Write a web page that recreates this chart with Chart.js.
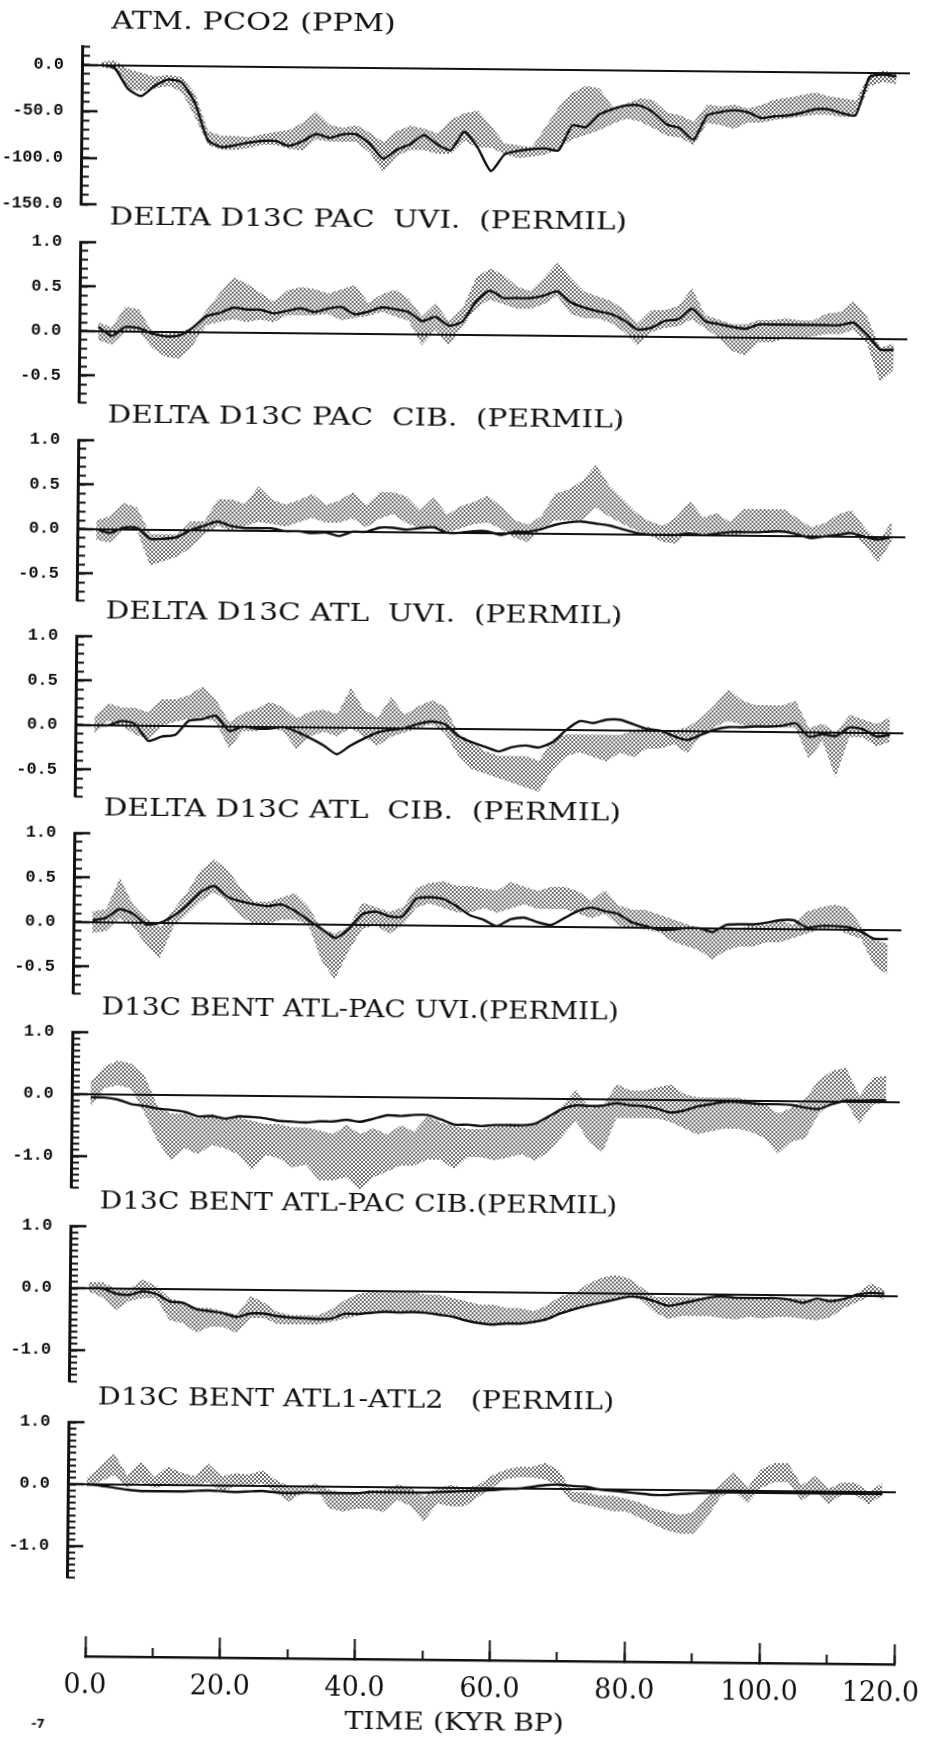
<!DOCTYPE html>
<html>
<head>
<meta charset="utf-8">
<script src="https://cdn.jsdelivr.net/npm/chart.js@4.4.1/dist/chart.umd.min.js"></script>
<style>
  html, body { margin: 0; padding: 0; background: #fff; overflow: hidden; }
  #sheet { position: relative; width: 930px; height: 1740px; background: #fff;
           transform: rotate(0.57deg); transform-origin: 465px 870px; }
  .panel { position: absolute; left: 0; }
  .txt { position: absolute; white-space: pre; font-family: 'DejaVu Serif', serif; color: #111;
         font-size: 24px; line-height: 28px; transform-origin: 0 50%; }
  #mark { position: absolute; font: bold 12px 'DejaVu Sans', sans-serif; color: #111; }
</style>
</head>
<body>
<div id="sheet"></div>
<script>
// time axis (kyr BP), one sample every 2 kyr
const KYR = [0,2,4,6,8,10,12,14,16,18,20,22,24,26,28,30,32,34,36,38,40,42,44,46,48,50,52,54,56,58,
             60,62,64,66,68,70,72,74,76,78,80,82,84,86,88,90,92,94,96,98,100,102,104,106,108,110,112,114,116,118];
const X_TICKS_MAJOR = 20;
const X_TICKS_MINOR = 10;

const TITLES = [
  'ATM. PCO2 (PPM)',
  'DELTA D13C PAC  UVI.  (PERMIL)',
  'DELTA D13C PAC  CIB.  (PERMIL)',
  'DELTA D13C ATL  UVI.  (PERMIL)',
  'DELTA D13C ATL  CIB.  (PERMIL)',
  'D13C BENT ATL-PAC UVI.(PERMIL)',
  'D13C BENT ATL-PAC CIB.(PERMIL)',
  'D13C BENT ATL1-ATL2   (PERMIL)'
];

// y ranges and tick steps per panel
const Y_MIN = [-150, -0.8, -0.8, -0.8, -0.8, -1.5, -1.5, -1.5];
const Y_MAX = [20, 1.0, 1.0, 1.0, 1.0, 1.0, 1.0, 1.0];
const Y_STEP = [50, 0.5, 0.5, 0.5, 0.5, 1.0, 1.0, 1.0];
const Y_MINOR = [10, 0.1, 0.1, 0.1, 0.1, 0.1, 0.1, 0.1];

// ---- atm pCO2 (ppm) ----
const PCO2_MODEL = [0,-3,-25,-33,-22,-15,-18,-40,-80,-87, -85,-82,-80,-80,-85,-80,-72,-76,-72,-72,
  -82,-98,-88,-82,-72,-82,-88,-68,-85,-110, -92,-88,-86,-85,-87,-60,-62,-48,-42,-38,
  -38,-45,-58,-62,-74,-48,-44,-42,-44,-50, -48,-47,-44,-40,-40,-44,-46,-5,-2,-4];
const PCO2_HI = [3,5,-4,-8,-12,-10,-12,-30,-70,-75, -75,-76,-73,-70,-68,-60,-48,-62,-65,-62,
  -70,-80,-68,-62,-65,-70,-55,-48,-45,-62, -80,-82,-84,-62,-40,-25,-17,-20,-40,-36,
  -30,-32,-45,-48,-55,-36,-38,-36,-40,-36, -30,-28,-25,-22,-26,-28,-30,-2,2,0];
const PCO2_LO = [-2,-5,-25,-28,-25,-22,-28,-55,-85,-90, -90,-88,-84,-84,-88,-90,-78,-80,-80,-80,
  -92,-112,-95,-88,-88,-92,-92,-78,-85,-85, -92,-96,-94,-92,-85,-75,-70,-65,-58,-52,
  -55,-62,-70,-72,-80,-56,-58,-62,-55,-55, -52,-50,-48,-46,-46,-48,-48,-15,-10,-12];

// ---- delta d13C Pacific, Uvigerina ----
const PAC_UVI_MODEL = [0.05,-0.05,0.05,0.04,-0.02,-0.05,-0.04,0.05,0.18,0.22, 0.28,0.26,0.26,0.22,0.25,0.28,0.24,0.28,0.3,0.22,
  0.25,0.3,0.28,0.25,0.15,0.2,0.1,0.15,0.38,0.5, 0.42,0.42,0.42,0.45,0.5,0.38,0.32,0.28,0.25,0.18,
  0.08,0.1,0.18,0.2,0.32,0.18,0.15,0.12,0.1,0.15, 0.15,0.15,0.15,0.15,0.15,0.15,0.18,0.05,-0.12,-0.12];
const PAC_UVI_HI = [0.1,0.05,0.28,0.25,0.0,-0.02,0.0,0.05,0.25,0.45, 0.62,0.55,0.45,0.35,0.48,0.52,0.5,0.45,0.5,0.55,
  0.35,0.45,0.5,0.4,0.2,0.35,0.15,0.3,0.65,0.75, 0.68,0.55,0.5,0.65,0.82,0.65,0.5,0.45,0.4,0.3,
  0.15,0.3,0.3,0.35,0.55,0.25,0.2,0.15,0.15,0.2, 0.2,0.22,0.2,0.2,0.28,0.3,0.42,0.25,-0.1,-0.05];
const PAC_UVI_LO = [-0.1,-0.15,0.0,0.0,-0.18,-0.28,-0.3,-0.15,0.08,0.12, 0.15,0.12,0.15,0.12,0.2,0.2,0.2,0.22,0.15,0.18,
  0.2,0.25,0.2,0.15,-0.12,0.05,-0.12,0.1,0.3,0.4, 0.35,0.3,0.3,0.35,0.45,0.25,0.2,0.2,0.15,0.05,
  -0.1,0.05,0.1,0.12,0.2,0.1,0.0,-0.15,-0.2,-0.05, -0.05,0.0,0.0,0.02,0.05,0.05,0.1,-0.05,-0.48,-0.35];

// ---- delta d13C Pacific, Cibicides ----
const PAC_CIB_MODEL = [0,-0.04,0.02,0.02,-0.1,-0.1,-0.08,0.0,0.05,0.1, 0.05,0.03,0.03,0.03,0.0,0.0,-0.02,-0.01,-0.05,0.0,
  0.0,0.05,0.05,0.03,0.05,0.06,0.0,0.0,0.02,0.02, -0.02,0.02,0.02,0.05,0.1,0.13,0.14,0.12,0.1,0.06,
  0.02,0.0,0.0,0.0,0.02,0.0,0.02,0.04,0.04,0.04, 0.05,0.05,0.02,-0.02,0.0,0.02,0.04,0.0,-0.03,0.0];
const PAC_CIB_HI = [0.1,0.15,0.3,0.25,-0.05,-0.05,-0.05,0.1,0.1,0.35, 0.35,0.3,0.5,0.35,0.3,0.35,0.42,0.3,0.35,0.45,
  0.3,0.45,0.45,0.4,0.25,0.4,0.2,0.3,0.35,0.42, 0.3,0.15,0.1,0.2,0.45,0.5,0.6,0.78,0.55,0.4,
  0.25,0.15,0.1,0.2,0.38,0.2,0.25,0.15,0.3,0.3, 0.3,0.3,0.2,0.1,0.15,0.25,0.3,0.1,-0.05,0.18];
const PAC_CIB_LO = [-0.12,-0.15,0.0,0.0,-0.4,-0.35,-0.3,-0.2,-0.05,0.05, 0.0,0.05,0.1,0.08,0.05,0.1,0.15,0.1,0.1,0.15,
  0.05,0.15,0.2,0.1,0.05,0.08,0.0,0.05,0.1,0.12, 0.05,-0.05,-0.1,0.05,0.15,0.15,0.15,0.3,0.2,0.12,
  0.05,0.0,-0.08,-0.1,0.05,0.0,0.02,0.0,0.02,0.05, 0.05,0.05,0.02,-0.02,0.0,0.02,0.05,-0.1,-0.28,-0.05];

// ---- delta d13C Atlantic, Uvigerina ----
const ATL_UVI_MODEL = [0,0.0,0.05,0.02,-0.17,-0.12,-0.1,0.06,0.08,0.12, -0.05,0.0,-0.02,-0.02,0.0,-0.05,-0.12,-0.2,-0.3,-0.2,
  -0.12,-0.05,-0.02,0.0,0.05,0.08,0.05,-0.08,-0.15,-0.2, -0.25,-0.2,-0.18,-0.2,-0.14,0.0,0.1,0.08,0.12,0.12,
  0.07,0.02,0.0,-0.06,-0.1,-0.04,0.02,0.05,0.05,0.06, 0.06,0.07,0.1,-0.05,-0.02,-0.04,0.06,0.04,-0.04,-0.02];
const ATL_UVI_HI = [0.1,0.25,0.2,0.2,0.15,0.3,0.3,0.35,0.45,0.3, 0.05,0.15,0.2,0.28,0.22,0.1,0.18,0.2,0.15,0.45,
  0.2,0.12,0.35,0.15,0.25,0.32,0.25,-0.05,-0.15,-0.25, -0.3,-0.3,-0.3,-0.35,-0.1,-0.05,-0.05,-0.05,-0.05,-0.05,
  0.0,0.05,0.0,0.0,0.05,0.15,0.3,0.48,0.35,0.3, 0.3,0.3,0.35,0.05,0.1,0.0,0.2,0.15,0.1,0.18];
const ATL_UVI_LO = [-0.1,0.05,0.0,-0.1,-0.15,0.0,0.05,0.08,0.1,0.05, -0.25,-0.05,-0.05,0.0,-0.05,-0.25,-0.1,-0.05,-0.1,0.0,
  -0.1,-0.2,-0.1,-0.05,0.0,0.05,-0.05,-0.3,-0.45,-0.5, -0.55,-0.6,-0.65,-0.7,-0.45,-0.3,-0.25,-0.3,-0.35,-0.25,
  -0.3,-0.2,-0.2,-0.15,-0.25,-0.05,0.05,0.12,0.08,0.05, 0.05,0.05,0.05,-0.3,-0.1,-0.5,-0.05,-0.05,-0.15,-0.1];

// ---- delta d13C Atlantic, Cibicides ----
const ATL_CIB_MODEL = [0.02,0.05,0.15,0.1,-0.02,0.0,0.08,0.2,0.35,0.42, 0.3,0.25,0.22,0.2,0.22,0.15,0.05,-0.05,-0.15,-0.05,
  0.12,0.15,0.1,0.1,0.3,0.32,0.3,0.22,0.12,0.07, 0.0,0.08,0.1,0.05,0.02,0.1,0.18,0.22,0.18,0.15,
  0.06,0.02,-0.02,-0.02,0.0,0.0,-0.04,0.04,0.05,0.05, 0.07,0.1,0.1,0.02,0.04,0.04,0.03,-0.02,-0.1,-0.1];
const ATL_CIB_HI = [0.12,0.15,0.5,0.2,0.05,-0.05,0.15,0.35,0.6,0.72, 0.6,0.4,0.25,0.25,0.3,0.35,0.2,-0.05,-0.1,-0.02,
  0.25,0.2,0.15,0.2,0.42,0.48,0.5,0.45,0.45,0.42, 0.4,0.5,0.45,0.4,0.45,0.45,0.4,0.3,0.42,0.25,
  0.2,0.2,0.15,0.1,0.05,0.0,-0.05,0.0,0.0,0.05, 0.05,0.1,0.05,0.2,0.25,0.28,0.25,0.05,-0.12,-0.15];
const ATL_CIB_LO = [-0.12,-0.1,0.05,-0.05,-0.25,-0.4,-0.05,0.1,0.25,0.35, 0.25,0.08,0.0,0.0,0.05,0.05,0.0,-0.4,-0.62,-0.3,
  -0.05,0.0,-0.1,0.0,0.2,0.25,0.2,0.15,0.15,0.2, 0.15,0.2,0.25,0.2,0.2,0.2,0.15,0.1,0.15,0.02,
  0.0,-0.02,-0.05,-0.15,-0.2,-0.25,-0.35,-0.25,-0.2,-0.2, -0.15,-0.15,-0.1,-0.05,0.0,0.02,-0.05,-0.1,-0.4,-0.5];

// ---- benthic d13C Atlantic - Pacific, Uvigerina ----
const AP_UVI_MODEL = [-0.05,-0.05,-0.08,-0.15,-0.18,-0.22,-0.24,-0.27,-0.34,-0.33, -0.37,-0.33,-0.34,-0.36,-0.4,-0.41,-0.42,-0.4,-0.4,-0.37,
  -0.4,-0.35,-0.29,-0.3,-0.28,-0.28,-0.35,-0.43,-0.43,-0.45, -0.43,-0.43,-0.43,-0.4,-0.28,-0.16,-0.1,-0.11,-0.1,-0.06,
  -0.09,-0.1,-0.14,-0.2,-0.17,-0.1,-0.06,-0.02,-0.02,-0.04, -0.05,-0.05,-0.06,-0.1,-0.12,-0.04,0.02,0.02,0.03,0.03];
const AP_UVI_HI = [0.2,0.45,0.55,0.5,0.3,-0.2,-0.3,-0.3,-0.38,-0.3, -0.38,-0.35,-0.4,-0.45,-0.45,-0.5,-0.5,-0.55,-0.6,-0.45,
  -0.6,-0.5,-0.6,-0.45,-0.55,-0.3,-0.4,-0.45,-0.5,-0.5, -0.45,-0.4,-0.42,-0.42,-0.3,-0.1,0.15,-0.15,-0.1,0.25,
  0.15,0.15,0.2,0.25,0.1,0.05,0.05,0.05,0.05,0.0, -0.05,-0.2,-0.1,0.05,0.35,0.5,0.55,0.1,0.4,0.42];
const AP_UVI_LO = [-0.2,0.1,0.15,0.1,-0.3,-0.75,-1.05,-0.85,-0.95,-0.8, -0.85,-0.95,-1.2,-0.95,-1.0,-1.15,-1.1,-1.35,-1.35,-1.3,
  -1.5,-1.3,-1.2,-1.1,-1.1,-1.0,-1.0,-1.15,-0.95,-0.95, -1.0,-0.95,-0.9,-1.0,-0.85,-0.6,-0.35,-0.7,-0.85,-0.3,
  -0.3,-0.3,-0.3,-0.35,-0.45,-0.55,-0.5,-0.45,-0.45,-0.5, -0.6,-0.85,-0.65,-0.6,-0.2,0.0,0.0,-0.35,-0.05,0.0];

// ---- benthic d13C Atlantic - Pacific, Cibicides ----
const AP_CIB_MODEL = [0.0,0.0,-0.08,-0.1,-0.04,-0.08,-0.2,-0.22,-0.32,-0.35, -0.38,-0.44,-0.38,-0.38,-0.42,-0.44,-0.45,-0.46,-0.45,-0.37,
  -0.37,-0.35,-0.33,-0.34,-0.33,-0.34,-0.37,-0.4,-0.46,-0.5, -0.52,-0.5,-0.5,-0.47,-0.42,-0.33,-0.26,-0.2,-0.15,-0.1,
  -0.05,-0.06,-0.12,-0.19,-0.15,-0.1,-0.05,-0.03,-0.05,-0.05, -0.05,-0.05,-0.07,-0.12,-0.05,-0.09,-0.05,0.02,0.05,0.04];
const AP_CIB_HI = [0.1,0.1,0.0,0.0,0.15,0.05,-0.15,-0.2,-0.3,-0.3, -0.35,-0.4,-0.1,-0.2,-0.35,-0.4,-0.4,-0.4,-0.3,-0.15,
  -0.05,0.0,-0.02,0.0,0.0,-0.05,-0.05,-0.1,-0.15,-0.2, -0.2,-0.25,-0.25,-0.3,-0.2,-0.05,0.0,0.15,0.25,0.3,
  0.25,0.1,-0.05,-0.05,-0.05,-0.05,-0.05,-0.05,-0.05,-0.05, -0.05,-0.08,-0.05,-0.05,-0.08,-0.05,-0.05,0.05,0.2,0.1];
const AP_CIB_LO = [-0.05,-0.15,-0.35,-0.2,-0.15,-0.15,-0.5,-0.55,-0.7,-0.6, -0.6,-0.7,-0.45,-0.45,-0.55,-0.55,-0.55,-0.55,-0.5,-0.45,
  -0.4,-0.35,-0.35,-0.35,-0.35,-0.35,-0.38,-0.4,-0.47,-0.5, -0.52,-0.52,-0.52,-0.5,-0.45,-0.35,-0.28,-0.22,-0.15,-0.1,
  -0.05,-0.1,-0.3,-0.4,-0.35,-0.35,-0.35,-0.38,-0.4,-0.35, -0.38,-0.35,-0.35,-0.38,-0.4,-0.35,-0.2,-0.1,0.0,-0.05];

// ---- benthic d13C Atlantic 1 - Atlantic 2 ----
const A12_MODEL = [0.0,-0.02,-0.05,-0.08,-0.1,-0.1,-0.1,-0.1,-0.09,-0.08, -0.09,-0.1,-0.09,-0.08,-0.1,-0.11,-0.1,-0.1,-0.1,-0.1,
  -0.1,-0.08,-0.08,-0.08,-0.08,-0.08,-0.07,-0.06,-0.05,-0.04, -0.03,-0.01,0.0,0.03,0.06,0.07,0.05,0.04,0.0,-0.02,
  -0.04,-0.06,-0.08,-0.08,-0.06,-0.05,-0.04,-0.03,-0.03,-0.03, -0.03,-0.03,-0.03,-0.03,-0.03,-0.03,-0.03,-0.03,-0.03,-0.03];
const A12_HI = [0.1,0.3,0.5,0.15,0.38,0.12,0.3,0.2,0.15,0.35, 0.15,0.2,0.18,0.25,0.1,0.0,0.0,0.05,-0.05,-0.1,
  -0.1,-0.05,-0.05,0.05,0.0,-0.15,0.0,0.05,0.0,0.05, 0.2,0.3,0.35,0.35,0.42,0.3,-0.05,-0.05,-0.1,-0.1,
  -0.15,-0.2,-0.3,-0.35,-0.4,-0.35,-0.1,0.1,0.3,0.05, 0.35,0.45,0.45,0.1,0.25,0.05,0.15,0.15,0.0,0.15];
const A12_LO = [-0.05,0.05,0.15,-0.05,0.05,-0.05,0.0,0.02,0.0,0.05, -0.1,0.0,0.0,0.05,-0.1,-0.25,-0.1,-0.05,-0.35,-0.4,
  -0.35,-0.35,-0.4,-0.2,-0.3,-0.55,-0.25,-0.3,-0.3,-0.15, 0.0,0.15,0.18,0.18,0.15,0.05,-0.2,-0.25,-0.3,-0.35,
  -0.35,-0.45,-0.55,-0.65,-0.7,-0.7,-0.45,-0.1,0.0,-0.2, 0.05,0.15,0.15,-0.15,0.0,-0.2,-0.05,-0.05,-0.2,-0.05];

const MODEL = [PCO2_MODEL, PAC_UVI_MODEL, PAC_CIB_MODEL, ATL_UVI_MODEL, ATL_CIB_MODEL, AP_UVI_MODEL, AP_CIB_MODEL, A12_MODEL];
const BAND_HI = [PCO2_HI, PAC_UVI_HI, PAC_CIB_HI, ATL_UVI_HI, ATL_CIB_HI, AP_UVI_HI, AP_CIB_HI, A12_HI];
const BAND_LO = [PCO2_LO, PAC_UVI_LO, PAC_CIB_LO, ATL_UVI_LO, ATL_CIB_LO, AP_UVI_LO, AP_CIB_LO, A12_LO];

// page layout (px)
const PLOT_TOP = [50, 246, 443.5, 639.5, 837, 1036, 1230, 1426];
const PLOT_H = [158, 160, 160, 160, 160, 155, 155, 155];
const AXIS_LEFT = 74, PLOT_RIGHT = 902, X_ZERO = 93;
const BLEED = 20;   // panel canvases start left of the page so long labels are not cut
const PAD = 14;
const X_MAX = 120;
const X_MIN = X_MAX - (PLOT_RIGHT - AXIS_LEFT) * X_MAX / (PLOT_RIGHT - X_ZERO);

const sheet = document.getElementById('sheet');
const INK = '#111';

function pts(arr) { return KYR.map((x, i) => ({ x: x, y: arr[i] })); }

function dotPattern(ctx) {
  const tile = document.createElement('canvas');
  tile.width = 4; tile.height = 4;
  const g = tile.getContext('2d');
  g.fillStyle = '#6a6a6a';
  g.fillRect(0, 0, 2, 2);
  g.fillRect(2, 2, 2, 2);
  return ctx.createPattern(tile, 'repeat');
}

function addText(str, left, midY, size, width) {
  const el = document.createElement('div');
  el.className = 'txt';
  el.textContent = str;
  el.style.fontSize = size + 'px';
  el.style.left = left + 'px';
  el.style.top = (midY - 14) + 'px';
  sheet.appendChild(el);
  el.style.transform = 'scaleX(' + (width / el.offsetWidth) + ')';
  return el;
}

// keep the layout from reserving room for tick labels
function vFit(w) { return s => { s.width = w; s.paddingTop = 0; s.paddingBottom = 0; }; }
function hFit(h) { return s => { s.height = h; s.paddingLeft = 0; s.paddingRight = 0; }; }

for (let p = 0; p < 8; p++) {
  const holder = document.createElement('div');
  holder.className = 'panel';
  holder.style.top = (PLOT_TOP[p] - PAD) + 'px';
  holder.style.left = (-BLEED) + 'px';
  const cv = document.createElement('canvas');
  cv.width = 930 + BLEED;
  cv.height = PLOT_H[p] + 2 * PAD;
  holder.appendChild(cv);
  sheet.appendChild(holder);

  addText(TITLES[p], 103, PLOT_TOP[p] - 26, 24, p === 0 ? 285 : 517);

  const ctx = cv.getContext('2d');
  new Chart(ctx, {
    type: 'line',
    data: {
      datasets: [
        { data: pts(MODEL[p]), borderColor: INK, borderWidth: 2.4, pointRadius: 0, tension: 0.2, fill: false, order: 0 },
        { data: pts(BAND_HI[p]), borderColor: 'rgba(0,0,0,0)', borderWidth: 0, pointRadius: 0, fill: '+1',
          backgroundColor: dotPattern(ctx), order: 1 },
        { data: pts(BAND_LO[p]), borderColor: 'rgba(0,0,0,0)', borderWidth: 0, pointRadius: 0, fill: false, order: 2 }
      ]
    },
    options: {
      responsive: false,
      animation: false,
      devicePixelRatio: 1,
      layout: { padding: { left: 0, right: 930 - PLOT_RIGHT, top: PAD, bottom: PAD } },
      plugins: { legend: { display: false }, tooltip: { enabled: false } },
      scales: {
        x: { type: 'linear', min: X_MIN, max: X_MAX, display: false },
        yMinor: {
          type: 'linear', position: 'left', weight: 0,
          min: Y_MIN[p], max: Y_MAX[p],
          afterFit: vFit(0),
          ticks: { display: false, stepSize: Y_MINOR[p], maxTicksLimit: 1000, includeBounds: false },
          grid: { drawOnChartArea: false, tickLength: -8, tickColor: INK, tickWidth: 2 },
          border: { display: false }
        },
        y: {
          type: 'linear', position: 'left', weight: 1,
          min: Y_MIN[p], max: Y_MAX[p],
          afterFit: vFit(AXIS_LEFT + BLEED),
          ticks: {
            stepSize: Y_STEP[p], includeBounds: false, autoSkip: false, padding: 34, color: INK,
            font: { family: 'Liberation Mono', size: 17, weight: 'bold' },
            callback: v => v.toFixed(1)
          },
          grid: {
            drawOnChartArea: true, z: 1,
            color: c => (c.tick && c.tick.value === 0) ? INK : 'rgba(0,0,0,0)',
            lineWidth: 2, tickLength: -16, tickColor: INK, tickWidth: 2.5
          },
          border: { display: true, color: INK, width: 3, z: 1 }
        }
      }
    }
  });
}

// shared time axis at the bottom
(function () {
  const AXIS_Y = 1660, TOP = 1600, H = 140, BOX = 50;
  const holder = document.createElement('div');
  holder.className = 'panel';
  holder.style.top = TOP + 'px';
  const cv = document.createElement('canvas');
  cv.width = 930; cv.height = H;
  holder.appendChild(cv);
  sheet.appendChild(holder);
  new Chart(cv.getContext('2d'), {
    type: 'line',
    data: { datasets: [] },
    options: {
      responsive: false, animation: false, devicePixelRatio: 1,
      layout: { padding: { left: X_ZERO, right: 930 - PLOT_RIGHT, top: 10, bottom: H - (AXIS_Y - TOP) - BOX } },
      plugins: { legend: { display: false }, tooltip: { enabled: false } },
      scales: {
        y: { type: 'linear', display: false, min: 0, max: 1 },
        xMinor: {
          type: 'linear', position: 'bottom', weight: 0, min: 0, max: X_MAX,
          afterFit: hFit(0),
          ticks: { display: false, stepSize: X_TICKS_MINOR, maxTicksLimit: 100 },
          grid: { drawOnChartArea: false, tickLength: -9, tickColor: INK, tickWidth: 2 },
          border: { display: false }
        },
        x: {
          type: 'linear', position: 'bottom', weight: 1, min: 0, max: X_MAX,
          afterFit: hFit(BOX),
          ticks: { stepSize: X_TICKS_MAJOR, maxTicksLimit: 100, autoSkip: false, maxRotation: 0, padding: 34,
                   color: INK, font: { family: 'DejaVu Serif', size: 27 },
                   // last label sits against the page edge, so pad it on the right
                   callback: v => v === X_MAX ? v.toFixed(1) + '\u2002\u2002' : v.toFixed(1) },
          grid: { drawOnChartArea: false, tickLength: -20, tickColor: INK, tickWidth: 2 },
          border: { display: true, color: INK, width: 2.5 }
        }
      }
    }
  });
  addText('TIME (KYR BP)', 353, 1722, 25, 219);
  const mark = document.createElement('div');
  mark.id = 'mark';
  mark.textContent = '-7';
  mark.style.left = '40px';
  mark.style.top = '1721px';
  sheet.appendChild(mark);
})();
</script>
</body>
</html>
